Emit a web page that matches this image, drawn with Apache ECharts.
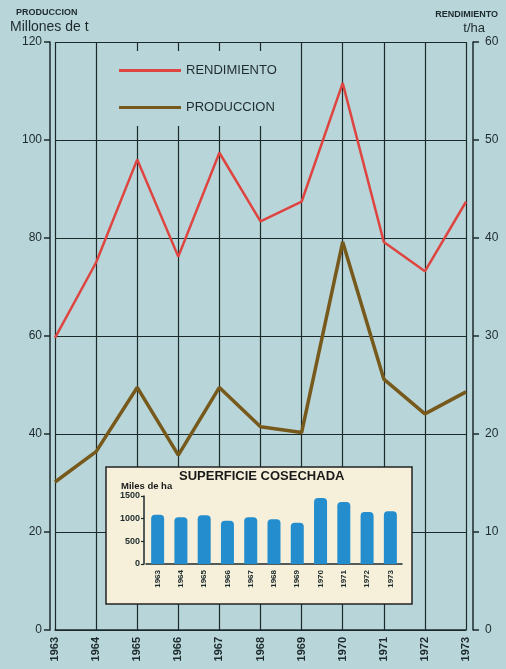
<!DOCTYPE html>
<html lang="es">
<head>
    <meta charset="UTF-8">
    <title>Produccion y rendimiento</title>
    <script src="https://cdn.jsdelivr.net/npm/echarts@6/dist/echarts.min.js"></script>
    <style>
        html, body { margin: 0; padding: 0; background: #b8d5d9; }
        #chart { width: 506px; height: 669px; }
    </style>
</head>
<body>
    <div id="chart"></div>
    <script>
    // datos
    var years = ['1963', '1964', '1965', '1966', '1967', '1968', '1969', '1970', '1971', '1972', '1973'];
    var rendimiento = [29.8, 37.5, 48.0, 38.1, 48.7, 41.7, 43.7, 55.8, 39.6, 36.6, 43.7];   // t/ha
    var produccion = [30.2, 36.4, 49.5, 35.7, 49.5, 41.5, 40.3, 79.2, 51.2, 44.1, 48.6];    // millones de t
    var superficie = [1088, 1029, 1073, 956, 1029, 985, 912, 1456, 1367, 1146, 1161];       // miles de ha

    var bg = '#b8d5d9';
    var ink = '#1d2a2c';
    var font = 'Liberation Sans, Arial, sans-serif';

    var myChart = echarts.init(document.getElementById('chart'));

    var option = {
        backgroundColor: bg,
        animation: false,
        textStyle: { fontFamily: font },
        grid: [
            { left: 55, right: 40, top: 42, bottom: 39 },
            { left: 146, width: 256, top: 496, height: 68 }
        ],
        legend: {
            data: ['RENDIMIENTO', 'PRODUCCION'],
            orient: 'vertical',
            left: 105,
            top: 51,
            padding: [13, 19, 12, 14],
            backgroundColor: bg,
            icon: 'rect',
            itemWidth: 62,
            itemHeight: 3,
            itemGap: 24,
            z: 4,
            textStyle: { color: '#1f2c2e', fontSize: 13, fontFamily: font }
        },
        xAxis: [{
            type: 'category',
            gridIndex: 0,
            data: years,
            boundaryGap: false,
            axisLine: { show: true, lineStyle: { color: ink, width: 1.5 } },
            axisTick: { show: false },
            axisLabel: { rotate: 90, margin: 7, color: ink, fontSize: 11, fontWeight: 'bold' },
            splitLine: { show: true, lineStyle: { color: ink, width: 1.2 } }
        }, {
            type: 'category',
            gridIndex: 1,
            data: years,
            z: 3,
            axisLine: { show: true, lineStyle: { color: ink, width: 1.5 } },
            axisTick: { show: false },
            axisLabel: { rotate: 90, margin: 6, color: ink, fontSize: 8, fontWeight: 'bold' },
            splitLine: { show: false }
        }],
        yAxis: [{
            type: 'value',
            gridIndex: 0,
            position: 'left',
            offset: 5,
            min: 0, max: 120, interval: 20,
            axisLine: { show: true, lineStyle: { color: ink, width: 1.5 } },
            axisTick: { show: true, length: 6, lineStyle: { color: ink, width: 1.5 } },
            axisLabel: { margin: 8, color: ink, fontSize: 12 },
            splitLine: { show: true, lineStyle: { color: ink, width: 1.2 } }
        }, {
            type: 'value',
            gridIndex: 0,
            position: 'right',
            offset: 7,
            min: 0, max: 60, interval: 10,
            axisLine: { show: true, lineStyle: { color: ink, width: 1.5 } },
            axisTick: { show: true, length: 6, lineStyle: { color: ink, width: 1.5 } },
            axisLabel: { margin: 12, color: ink, fontSize: 12 },
            splitLine: { show: false }
        }, {
            type: 'value',
            gridIndex: 1,
            z: 3,
            offset: 2,
            min: 0, max: 1500, interval: 500,
            axisLine: { show: true, lineStyle: { color: ink, width: 1.5 } },
            axisTick: { show: true, length: 3, lineStyle: { color: ink, width: 1.2 } },
            axisLabel: {
                margin: 4, color: ink, fontSize: 9, fontWeight: 'bold',
                formatter: function (v) { return String(v); }
            },
            splitLine: { show: false }
        }],
        graphic: [
            { type: 'text', left: 16, top: 8, style: { text: 'PRODUCCION', font: 'bold 9px ' + font, fill: ink } },
            { type: 'text', left: 10, top: 20, style: { text: 'Millones de t', font: '14px ' + font, fill: ink } },
            { type: 'text', right: 8, top: 10, style: { text: 'RENDIMIENTO', font: 'bold 9px ' + font, fill: ink } },
            { type: 'text', right: 21, top: 22, style: { text: 't/ha', font: '13px ' + font, fill: ink } },
            // recuadro de la superficie cosechada
            {
                type: 'rect', z: 2,
                shape: { x: 106, y: 467, width: 306, height: 137 },
                style: { fill: '#f6f0da', stroke: '#222', lineWidth: 1.5 }
            },
            { type: 'text', z: 3, left: 179, top: 470, style: { text: 'SUPERFICIE COSECHADA', font: 'bold 13px ' + font, fill: '#1a1a1a' } },
            { type: 'text', z: 3, left: 121, top: 481, style: { text: 'Miles de ha', font: 'bold 9.5px ' + font, fill: '#1a1a1a' } }
        ],
        series: [{
            name: 'RENDIMIENTO',
            type: 'line',
            xAxisIndex: 0,
            yAxisIndex: 1,
            data: rendimiento,
            symbol: 'none',
            color: '#df4540',
            lineStyle: { color: '#df4540', width: 2.5 },
            z: 2
        }, {
            name: 'PRODUCCION',
            type: 'line',
            xAxisIndex: 0,
            yAxisIndex: 0,
            data: produccion,
            symbol: 'none',
            color: '#76591b',
            lineStyle: { color: '#76591b', width: 3.5 },
            z: 2
        }, {
            name: 'superficie',
            type: 'bar',
            xAxisIndex: 1,
            yAxisIndex: 2,
            data: superficie,
            barWidth: 13,
            itemStyle: { color: '#238dcd', borderRadius: [4, 4, 0, 0] },
            z: 3
        }]
    };

    myChart.setOption(option);
    </script>
</body>
</html>
